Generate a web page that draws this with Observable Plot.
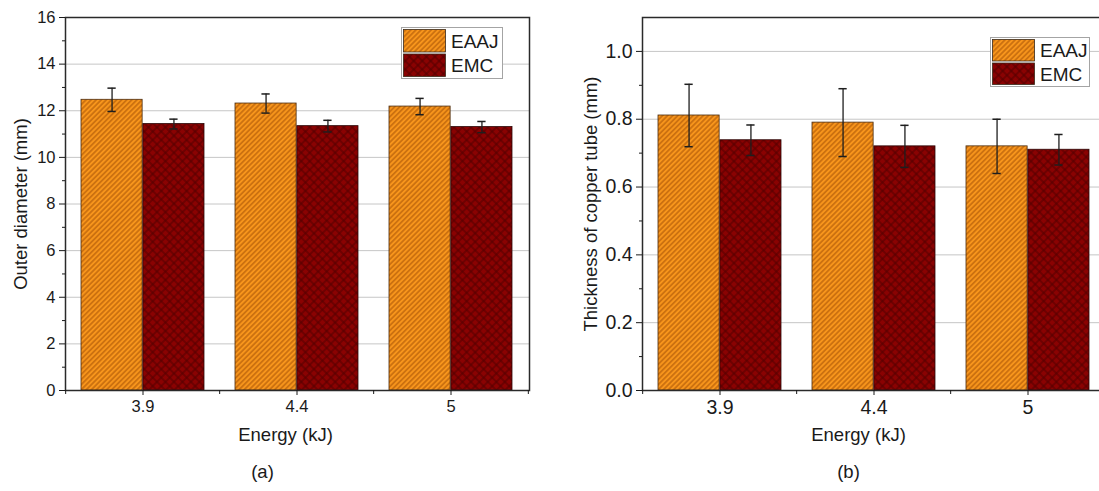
<!DOCTYPE html>
<html>
<head>
<meta charset="utf-8">
<script src="https://cdn.jsdelivr.net/npm/d3@7"></script>
<script src="https://cdn.jsdelivr.net/npm/@observablehq/plot@0.6"></script>
<style>
  html, body { margin: 0; padding: 0; background: #fff; }
  #chart { position: relative; width: 1099px; height: 491px; overflow: hidden;
           font-family: "Liberation Sans", Arial, sans-serif; }
  #chart .panel { position: absolute; top: 0; }
  #chart .legend { position: absolute; }
</style>
</head>
<body>
<!-- shared fill patterns: diagonal hatch (EAAJ) and cross-hatch (EMC) -->
<svg width="0" height="0" style="position:absolute">
  <defs>
    <pattern id="hatch" patternUnits="userSpaceOnUse" width="3.6" height="3.6" patternTransform="rotate(45)">
      <rect width="3.6" height="3.6" fill="#f7951c"/>
      <line x1="1.8" y1="0" x2="1.8" y2="3.6" stroke="#b05a08" stroke-width="1.1"/>
    </pattern>
    <pattern id="cross" patternUnits="userSpaceOnUse" width="6" height="6" patternTransform="rotate(45)">
      <rect width="6" height="6" fill="#8a0202"/>
      <path d="M3 0V6M0 3H6" stroke="#520000" stroke-width="1"/>
    </pattern>
  </defs>
</svg>
<div id="chart"></div>
<script>
// Energy levels (kJ) and the two forming methods
const energies = ["3.9", "4.4", "5"];
const series = ["EAAJ", "EMC"];

// (a) outer diameter, mm (mean and error)
const diameterEAAJ = [12.47, 12.31, 12.18];
const diameterEAAJErr = [0.50, 0.41, 0.35];
const diameterEMC = [11.43, 11.34, 11.30];
const diameterEMCErr = [0.21, 0.25, 0.24];

// (b) copper tube thickness, mm (mean and error)
const thicknessEAAJ = [0.811, 0.790, 0.720];
const thicknessEAAJErr = [0.092, 0.100, 0.080];
const thicknessEMC = [0.738, 0.720, 0.710];
const thicknessEMCErr = [0.045, 0.062, 0.045];

// axis ticks
const diameterTicks = [0, 2, 4, 6, 8, 10, 12, 14, 16];
const diameterMinor = [1, 3, 5, 7, 9, 11, 13, 15];
const thicknessTicks = [0, 0.2, 0.4, 0.6, 0.8, 1.0];
const thicknessMinor = [0.1, 0.3, 0.5, 0.7, 0.9];

// layout
const PLOT_W = 464, PLOT_H = 373;
const M = {left: 65, top: 17, right: 10, bottom: 101};
const step = PLOT_W / energies.length; // paddingInner .2 + 2 × paddingOuter .1 → step = width / n
const bw = step * 0.8;
const cap = 4.5;
const FONT = "'Liberation Sans', Arial, sans-serif";

function panel(o) {
  const rows = energies.flatMap((e, i) => [
    {energy: e, series: "EAAJ", value: o.a[i], err: o.aErr[i]},
    {energy: e, series: "EMC", value: o.b[i], err: o.bErr[i]}
  ]);
  const A = rows.filter(d => d.series === "EAAJ");
  const B = rows.filter(d => d.series === "EMC");
  const lo = d => d.value - d.err, hi = d => d.value + d.err;
  const whisker = (data, shift, insL, insR) => [
    Plot.ruleX(data, {x: "energy", y1: lo, y2: hi, dx: shift, stroke: "#1e1e1e", strokeWidth: 1.3}),
    Plot.tickY(data, {x: "energy", y: lo, insetLeft: insL, insetRight: insR, stroke: "#1e1e1e", strokeWidth: 1.5}),
    Plot.tickY(data, {x: "energy", y: hi, insetLeft: insL, insetRight: insR, stroke: "#1e1e1e", strokeWidth: 1.5})
  ];
  return Plot.plot({
    width: M.left + PLOT_W + M.right,
    height: M.top + PLOT_H + M.bottom,
    marginLeft: M.left, marginRight: M.right, marginTop: M.top, marginBottom: M.bottom,
    x: {domain: energies, paddingInner: 0.2, paddingOuter: 0.1, axis: null},
    y: {domain: o.yDomain, axis: null},
    style: {fontFamily: FONT, color: "#1a1a1a", background: "transparent", overflow: "visible"},
    marks: [
      Plot.ruleY(o.grid, {stroke: "#c6c6c6", strokeWidth: 1}),
      Plot.barY(A, {x: "energy", y: "value", fill: "url(#hatch)", stroke: "#4a2c10", strokeWidth: 0.8, insetRight: bw / 2}),
      Plot.barY(B, {x: "energy", y: "value", fill: "url(#cross)", stroke: "#2a0606", strokeWidth: 0.8, insetLeft: bw / 2}),
      ...whisker(A, -bw / 4, bw / 4 - cap, 3 * bw / 4 - cap),
      ...whisker(B, bw / 4, 3 * bw / 4 - cap, bw / 4 - cap),
      Plot.frame({stroke: "#2a2a2a", strokeWidth: 1.5}),
      Plot.axisY({ticks: o.ticks, tickSize: 6, tickPadding: 4, fontSize: o.tickFont, tickFormat: o.fmt, label: null, stroke: "#1a1a1a"}),
      Plot.axisY({ticks: o.minor, tickSize: 3, tickFormat: () => "", label: null, stroke: "#1a1a1a"}),
      Plot.axisX({tickSize: 5, tickPadding: 5, fontSize: o.tickFont, label: null, stroke: "#1a1a1a"}),
      // short ticks on the boundaries between energy groups
      Plot.ruleX(energies, {x: d => d, dx: -step / 2, insetTop: PLOT_H, insetBottom: -4, stroke: "#1a1a1a"}),
      Plot.ruleX(energies.slice(-1), {x: d => d, dx: step / 2, insetTop: PLOT_H, insetBottom: -4, stroke: "#1a1a1a"}),
      Plot.text([o.ylabel], {text: d => d, frameAnchor: "left", textAnchor: "middle", rotate: -90, dx: o.ylabelDx, fontSize: 18.5, fill: "#1a1a1a"}),
      Plot.text(["Energy (kJ)"], {text: d => d, frameAnchor: "bottom", dy: 50, dx: o.xlabelDx, fontSize: 18.5, fill: "#1a1a1a"}),
      Plot.text([o.tag], {text: d => d, frameAnchor: "bottom", dy: 87, dx: o.tagDx, fontSize: 18.5, fill: "#1a1a1a"})
    ]
  });
}

function legend(left, top, w, h) {
  const svg = d3.create("svg")
    .attr("class", "legend")
    .attr("width", w).attr("height", h)
    .style("left", left + "px").style("top", top + "px");
  svg.append("rect").attr("x", 0.5).attr("y", 0.5).attr("width", w - 1).attr("height", h - 1)
    .attr("fill", "#fff").attr("stroke", "#a4a4a4");
  const sh = (h - 7) / 2;
  series.forEach((s, i) => {
    const y = 2.5 + i * (sh + 2);
    svg.append("rect").attr("x", 2.5).attr("y", y).attr("width", 42).attr("height", sh)
      .attr("fill", i ? "url(#cross)" : "url(#hatch)").attr("stroke", "#3a2a1a").attr("stroke-width", 0.8);
    svg.append("text").attr("x", 50).attr("y", y + sh / 2).attr("dy", "0.36em")
      .attr("fill", "#1a1a1a").style("font-family", FONT).style("font-size", "19px").text(s);
  });
  return svg.node();
}

const chart = document.getElementById("chart");

const left = panel({
  a: diameterEAAJ, aErr: diameterEAAJErr, b: diameterEMC, bErr: diameterEMCErr,
  yDomain: [0, 16], ticks: diameterTicks, minor: diameterMinor, grid: [2, 4, 6, 8, 10, 12, 14],
  fmt: d => String(d), tickFont: 16.5, ylabel: "Outer diameter (mm)", ylabelDx: -44,
  tag: "(a)", xlabelDx: -12, tagDx: -35
});
left.classList.add("panel");
left.style.left = "0px";
chart.appendChild(left);

const right = panel({
  a: thicknessEAAJ, aErr: thicknessEAAJErr, b: thicknessEMC, bErr: thicknessEMCErr,
  yDomain: [0, 1.1], ticks: thicknessTicks, minor: thicknessMinor, grid: [0.2, 0.4, 0.6, 0.8, 1.0],
  fmt: d => d.toFixed(1), tickFont: 19.5, ylabel: "Thickness of copper tube (mm)", ylabelDx: -51,
  tag: "(b)", xlabelDx: -16, tagDx: -26
});
right.classList.add("panel");
right.style.left = "577px";
chart.appendChild(right);

chart.appendChild(legend(401, 27, 102, 52));
chart.appendChild(legend(990, 37, 100, 50));
</script>
</body>
</html>
